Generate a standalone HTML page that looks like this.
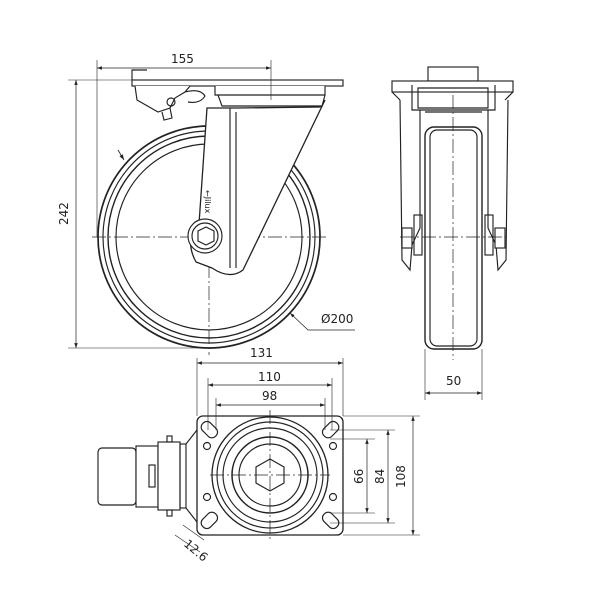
<!DOCTYPE html>
<html><head><style>
html,body{margin:0;padding:0;background:#fff;}
svg{display:block;}
text{font-family:"DejaVu Sans","Liberation Sans",sans-serif;font-size:12px;fill:#222;}
</style></head><body>
<svg width="600" height="600" viewBox="0 0 600 600" xmlns="http://www.w3.org/2000/svg">
<defs>
<marker id="a" viewBox="0 0 10 10" refX="10" refY="5" markerWidth="7" markerHeight="7" orient="auto-start-reverse"><path d="M0,1.5 L10,5 L0,8.5 z" fill="#222"/></marker>
</defs>
<g fill="none" stroke="#222" stroke-width="1.15">
<!-- SIDE VIEW -->
<circle cx="209" cy="237" r="111" stroke-width="1.7"/>
<circle cx="209" cy="237" r="106"/>
<circle cx="209" cy="237" r="101" stroke-width="1.4"/>
<circle cx="209" cy="237" r="93"/>
<g stroke-dasharray="14,3,2,3" stroke-width="0.7">
<line x1="92" y1="237" x2="328" y2="237"/>
<line x1="209" y1="110" x2="209" y2="355"/>
</g>
<!-- fork -->
<path d="M207,108 L237,108 L320,107 L325,100 L243,270 Q230,280 212,268 L196,262 Q184,240 199,224 L207,108 Z" fill="#fff" stroke-width="1.3"/>
<line x1="236" y1="112" x2="236" y2="268"/>
<line x1="230" y1="108" x2="230" y2="268"/>
<circle cx="205" cy="236" r="17" fill="#fff"/>
<circle cx="205" cy="236" r="13"/>
<polygon points="206,227 214,231 214,241 206,245 198,241 198,231" fill="#fff"/>
<text x="215" y="200" stroke="none" transform="rotate(90 215 190)" style="font-size:8px">←Jilux</text>
<!-- swivel head -->
<rect x="132" y="80" width="211" height="6" fill="#fff"/>
<path d="M215,86 L215,95 L325,95 L325,86 M218,95 L222,106 L322,106 L325,95" fill="#fff"/>
<path d="M132,80 L132,70 L147,70" />
<!-- brake -->
<path d="M135,86 L137,100 L158,112 L170,108 L175,98 L185,92 L190,86" fill="#fff"/>
<path d="M170,108 L172,118 L164,120 L162,112"/>
<circle cx="171" cy="102" r="4"/>
<path d="M185,92 Q200,88 205,96 Q200,104 188,102"/>
<!-- dimensions side -->
<line x1="97" y1="60" x2="97" y2="237" stroke-width="0.6"/>
<line x1="271" y1="60" x2="271" y2="100" stroke-width="0.6"/>
<line x1="97" y1="68" x2="271" y2="68" stroke-width="0.7" marker-start="url(#a)" marker-end="url(#a)"/>
<line x1="68" y1="80" x2="132" y2="80" stroke-width="0.6"/>
<line x1="68" y1="348" x2="209" y2="348" stroke-width="0.6"/>
<line x1="76" y1="80" x2="76" y2="348" stroke-width="0.7" marker-start="url(#a)" marker-end="url(#a)"/>
<line x1="118" y1="150" x2="124" y2="160" stroke-width="0.8" marker-end="url(#a)"/>
<polyline points="355,330 308,330 290,313" stroke-width="0.7" marker-end="url(#a)"/>

<!-- FRONT VIEW -->
<rect x="428" y="67" width="50" height="14" fill="#fff"/>
<rect x="392" y="81" width="121" height="11" fill="#fff"/>
<path d="M392,92 L400,100 M513,92 L505,100"/>
<path d="M400,100 L402,260 L410,270 L412,245 L420,228 L420,110 M508,100 L506,260 L498,270 L496,245 L488,228 L488,110"/>
<path d="M412,85 L412,110 L495,110 L495,85 M418,88 L488,88 L488,108 L418,108 Z"/>
<path d="M425,112 L482,112"/>
<rect x="425" y="127" width="57" height="222" rx="9" fill="#fff" stroke-width="1.4"/>
<rect x="430" y="130" width="47" height="216" rx="7"/>
<rect x="402" y="228" width="10" height="20" fill="#fff"/>
<rect x="495" y="228" width="10" height="20" fill="#fff"/>
<rect x="414" y="215" width="8" height="40"/>
<rect x="485" y="215" width="8" height="40"/>
<g stroke-dasharray="14,3,2,3" stroke-width="0.7">
<line x1="453" y1="95" x2="453" y2="360"/>
<line x1="400" y1="237" x2="508" y2="237"/>
</g>
<line x1="425" y1="349" x2="425" y2="400" stroke-width="0.6"/>
<line x1="482" y1="349" x2="482" y2="400" stroke-width="0.6"/>
<line x1="425" y1="393" x2="482" y2="393" stroke-width="0.7" marker-start="url(#a)" marker-end="url(#a)"/>

<!-- BOTTOM VIEW -->
<rect x="197" y="416" width="146" height="119" rx="6" fill="#fff" stroke-width="1.3"/>
<circle cx="270" cy="475" r="58" stroke-width="1.3"/>
<circle cx="270" cy="475" r="53"/>
<circle cx="270" cy="475" r="47"/>
<circle cx="270" cy="475" r="38" stroke-width="1.5"/>
<circle cx="270" cy="475" r="31"/>
<polygon points="270,459 284,467 284,483 270,491 256,483 256,467" fill="#fff"/>
<circle cx="207" cy="446" r="3.5"/><circle cx="333" cy="446" r="3.5"/>
<circle cx="207" cy="497" r="3.5"/><circle cx="333" cy="497" r="3.5"/>
<rect x="200" y="424" width="18" height="11" rx="5" transform="rotate(45 209 430)"/>
<rect x="200" y="515" width="18" height="11" rx="5" transform="rotate(-45 209 520)"/>
<rect x="322" y="424" width="18" height="11" rx="5" transform="rotate(-45 331 430)"/>
<rect x="322" y="515" width="18" height="11" rx="5" transform="rotate(45 331 520)"/>
<g stroke-dasharray="14,3,2,3" stroke-width="0.7">
<line x1="210" y1="475" x2="330" y2="475"/>
<line x1="270" y1="410" x2="270" y2="540"/>
</g>
<!-- brake bottom -->
<rect x="98" y="448" width="38" height="57" rx="4" fill="#fff"/>
<rect x="136" y="446" width="22" height="61" fill="#fff"/>
<rect x="149" y="465" width="6" height="22"/>
<rect x="158" y="442" width="22" height="68" fill="#fff"/>
<rect x="180" y="444" width="6" height="64"/>
<path d="M186,444 L197,430 M186,508 L197,522"/>
<rect x="167" y="436" width="5" height="6"/><rect x="167" y="510" width="5" height="6"/>
<!-- dims bottom -->
<line x1="197" y1="358" x2="197" y2="416" stroke-width="0.6"/>
<line x1="343" y1="358" x2="343" y2="416" stroke-width="0.6"/>
<line x1="197" y1="363" x2="343" y2="363" stroke-width="0.7" marker-start="url(#a)" marker-end="url(#a)"/>
<line x1="208" y1="378" x2="208" y2="430" stroke-width="0.6"/>
<line x1="332" y1="378" x2="332" y2="430" stroke-width="0.6"/>
<line x1="208" y1="385" x2="332" y2="385" stroke-width="0.7" marker-start="url(#a)" marker-end="url(#a)"/>
<line x1="216" y1="398" x2="216" y2="430" stroke-width="0.6"/>
<line x1="325" y1="398" x2="325" y2="430" stroke-width="0.6"/>
<line x1="216" y1="405" x2="325" y2="405" stroke-width="0.7" marker-start="url(#a)" marker-end="url(#a)"/>
<line x1="343" y1="416" x2="420" y2="416" stroke-width="0.6"/>
<line x1="343" y1="535" x2="420" y2="535" stroke-width="0.6"/>
<line x1="330" y1="430" x2="395" y2="430" stroke-width="0.6"/>
<line x1="330" y1="523" x2="395" y2="523" stroke-width="0.6"/>
<line x1="330" y1="439" x2="375" y2="439" stroke-width="0.6"/>
<line x1="330" y1="513" x2="375" y2="513" stroke-width="0.6"/>
<line x1="413" y1="416" x2="413" y2="535" stroke-width="0.7" marker-start="url(#a)" marker-end="url(#a)"/>
<line x1="388" y1="430" x2="388" y2="523" stroke-width="0.7" marker-start="url(#a)" marker-end="url(#a)"/>
<line x1="367" y1="439" x2="367" y2="513" stroke-width="0.7" marker-start="url(#a)" marker-end="url(#a)"/>
<line x1="175" y1="535" x2="200" y2="552" stroke-width="0.6"/>
<line x1="183" y1="525" x2="204" y2="540" stroke-width="0.6"/>
</g>
<g stroke="none">
<text x="171" y="63">155</text>
<text x="68" y="225" transform="rotate(-90 68 225)">242</text>
<text x="321" y="323">Ø200</text>
<text x="446" y="385">50</text>
<text x="250" y="357">131</text>
<text x="258" y="381">110</text>
<text x="262" y="400">98</text>
<text x="405" y="488" transform="rotate(-90 405 488)">108</text>
<text x="384" y="484" transform="rotate(-90 384 484)">84</text>
<text x="363" y="484" transform="rotate(-90 363 484)">66</text>
<text x="183" y="545" transform="rotate(40 183 545)">12.6</text>
</g>
</svg>
</body></html>
